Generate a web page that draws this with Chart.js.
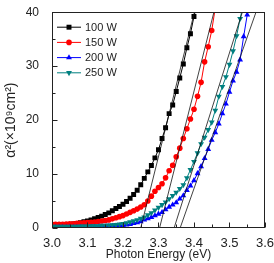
<!DOCTYPE html>
<html>
<head>
<meta charset="utf-8">
<script src="https://cdn.jsdelivr.net/npm/chart.js@4/dist/chart.umd.min.js"></script>
<style>
  html, body { margin: 0; padding: 0; background: #fff; }
  #c { display: block; }
</style>
</head>
<body>
<canvas id="c" width="274" height="263"></canvas>
<script>
// photon energy (eV), one point every 0.01 eV
const energy = [
  3.00, 3.01, 3.02, 3.03, 3.04, 3.05, 3.06, 3.07, 3.08, 3.09,
  3.10, 3.11, 3.12, 3.13, 3.14, 3.15, 3.16, 3.17, 3.18, 3.19,
  3.20, 3.21, 3.22, 3.23, 3.24, 3.25, 3.26, 3.27, 3.28, 3.29,
  3.30, 3.31, 3.32, 3.33, 3.34, 3.35, 3.36, 3.37, 3.38, 3.39,
  3.40, 3.41, 3.42, 3.43, 3.44, 3.45, 3.46, 3.47, 3.48, 3.49,
  3.50, 3.51, 3.52, 3.53, 3.54, 3.55
];

// alpha^2 (x10^9 cm^2) per sample power
const w100 = [
  0.5, 0.5, 0.5, 0.55, 0.6, 0.65, 0.75, 0.85, 1.0, 1.15,
  1.3, 1.5, 1.7, 1.95, 2.2, 2.5, 2.8, 3.2, 3.6, 4.0,
  4.4, 4.9, 5.5, 6.2, 7.0, 8.0, 9.2, 10.4, 11.6, 13.0,
  14.5, 16.6, 18.6, 21.2, 22.8, 25.3, 27.8, 30.4, 33.4, 36.0,
  39.2, 42.0
];
const w150 = [
  0.7, 0.7, 0.7, 0.7, 0.75, 0.8, 0.8, 0.85, 0.9, 0.95,
  1.0, 1.05, 1.1, 1.2, 1.3, 1.4, 1.5, 1.7, 1.9, 2.1,
  2.3, 2.6, 2.9, 3.2, 3.5, 3.9, 4.3, 5.0, 5.9, 6.8,
  7.5, 8.2, 9.3, 10.6, 11.6, 13.2, 14.8, 16.6, 18.4, 20.2,
  22.0, 24.4, 27.0, 30.8, 33.6, 36.6, 40.8
];
const w200 = [
  0.1, 0.1, 0.1, 0.1, 0.1, 0.1, 0.1, 0.1, 0.12, 0.12,
  0.15, 0.15, 0.18, 0.2, 0.22, 0.25, 0.3, 0.35, 0.4, 0.45,
  0.5, 0.6, 0.7, 0.85, 1.0, 1.2, 1.5, 1.75, 2.0, 2.3,
  2.6, 2.9, 3.4, 3.9, 4.3, 4.7, 5.4, 6.0, 7.0, 7.8,
  8.8, 10.1, 11.4, 12.9, 14.6, 16.3, 17.7, 19.3, 21.2, 23.0,
  25.2, 27.3, 28.9, 31.2, 35.5, 39.5
];
const w250 = [
  0.3, 0.3, 0.3, 0.3, 0.3, 0.3, 0.3, 0.3, 0.35, 0.35,
  0.35, 0.4, 0.4, 0.4, 0.45, 0.45, 0.5, 0.55, 0.6, 0.7,
  0.8, 0.95, 1.1, 1.3, 1.5, 1.75, 2.0, 2.4, 2.8, 3.3,
  3.8, 4.3, 4.8, 5.4, 6.0, 6.6, 7.3, 8.0, 9.3, 10.8,
  12.3, 13.9, 15.6, 16.8, 18.2, 19.6, 21.8, 24.4, 26.2, 28.0,
  30.3, 32.8, 35.6, 38.8, 41.8
];

// linear fits: end points [E, alpha^2]
const fit100 = [[3.250, 0], [3.405, 41]];
const fit150 = [[3.303, 0], [3.460, 41]];
const fit200 = [[3.361, 0], [3.580, 41]];
const fit250 = [[3.344, 0], [3.541, 41]];

const xTicks = { min: 3.0, max: 3.6, step: 0.1 };
const yTicks = { min: 0, max: 40, step: 10 };

const FONT = '"Liberation Sans", Arial, sans-serif';
Chart.defaults.font.family = FONT;
Chart.defaults.color = "#222";

const pts = (vals) => vals.map((v, i) => ({ x: energy[i], y: v }));
const seg = (p) => p.map(([x, y]) => ({ x, y }));

function series(label, vals, color, style, radius, rot, order) {
  return {
    label,
    data: pts(vals),
    borderColor: color,
    backgroundColor: color,
    borderWidth: 1,
    pointStyle: style,
    pointRadius: radius,
    pointRotation: rot,
    pointBorderWidth: 0,
    order
  };
}

function fitLine(p) {
  return {
    data: seg(p),
    borderColor: "#111",
    borderWidth: 0.8,
    pointRadius: 0,
    order: 0
  };
}

// frame, inward ticks and the in-plot legend
const decor = {
  id: "decor",
  afterDraw(chart) {
    const ctx = chart.ctx;
    const a = chart.chartArea;
    const xs = chart.scales.x, ys = chart.scales.y;
    ctx.save();
    ctx.strokeStyle = "#222";
    ctx.lineWidth = 1;
    const L = Math.round(a.left) + 0.5, R = Math.round(a.right) - 0.5;
    const T = Math.round(a.top) + 0.5, B = Math.round(a.bottom) - 0.5;
    ctx.strokeRect(L, T, R - L, B - T);

    ctx.beginPath();
    xs.ticks.forEach((t, i) => {
      const px = Math.round(xs.getPixelForValue(t.value)) + 0.5;
      ctx.moveTo(px, B); ctx.lineTo(px, B - 5);
      if (i < xs.ticks.length - 1) {
        const m = Math.round(xs.getPixelForValue((t.value + xs.ticks[i + 1].value) / 2)) + 0.5;
        ctx.moveTo(m, B); ctx.lineTo(m, B - 3);
      }
    });
    ys.ticks.forEach((t, i) => {
      const py = Math.round(ys.getPixelForValue(t.value)) + 0.5;
      ctx.moveTo(L, py); ctx.lineTo(L + 5, py);
      if (i < ys.ticks.length - 1) {
        const m = Math.round(ys.getPixelForValue((t.value + ys.ticks[i + 1].value) / 2)) + 0.5;
        ctx.moveTo(L, m); ctx.lineTo(L + 3, m);
      }
    });
    ctx.stroke();

    ctx.font = "11px " + FONT;
    ctx.textBaseline = "middle";
    chart.data.datasets.filter(d => d.label).forEach((d, i) => {
      const y = a.top + 15 + i * 15.2;
      const x0 = a.left + 5;
      ctx.strokeStyle = d.borderColor;
      ctx.lineWidth = 1;
      ctx.beginPath();
      ctx.moveTo(x0, y); ctx.lineTo(x0 + 24, y);
      ctx.stroke();
      ctx.fillStyle = d.backgroundColor;
      Chart.helpers.drawPoint(ctx, {
        pointStyle: d.pointStyle, radius: d.pointRadius,
        rotation: d.pointRotation, borderWidth: 0
      }, x0 + 12, y);
      ctx.fillStyle = "#222";
      ctx.fillText(d.label, x0 + 28, y + 0.5);
    });
    ctx.restore();
  }
};

new Chart(document.getElementById("c"), {
  type: "line",
  data: {
    datasets: [
      series("100 W", w100, "#000000", "rect", 3.5, 0, 4),
      series("150 W", w150, "#ff0000", "circle", 2.8, 0, 3),
      series("200 W", w200, "#0000ff", "triangle", 3.4, 0, 2),
      series("250 W", w250, "#008080", "triangle", 3.4, 180, 1),
      fitLine(fit100), fitLine(fit150), fitLine(fit200), fitLine(fit250)
    ]
  },
  options: {
    responsive: false,
    animation: false,
    devicePixelRatio: 1,
    layout: { padding: { top: 8, right: 6, left: 0, bottom: 0 } },
    plugins: { legend: { display: false }, tooltip: { enabled: false } },
    scales: {
      x: {
        type: "linear",
        min: xTicks.min, max: xTicks.max,
        grid: { display: false },
        border: { display: false },
        ticks: {
          stepSize: xTicks.step, padding: 0,
          font: { size: 13 }, color: "#222",
          maxRotation: 0,
          callback: (v) => v.toFixed(1)
        },
        title: {
          display: true, text: "Photon Energy (eV)",
          font: { size: 12 }, color: "#222",
          padding: { top: 0, bottom: 1 }
        },
        afterFit: (s) => { s.height = 35; }
      },
      y: {
        min: yTicks.min, max: yTicks.max,
        grid: { display: false },
        border: { display: false },
        ticks: { stepSize: yTicks.step, padding: 5, font: { size: 12 }, color: "#222" },
        title: {
          display: true, text: "α²(×10⁹cm²)",
          font: { size: 14 }, color: "#222",
          padding: { top: 3, bottom: 0 }
        },
        afterFit: (s) => { s.width = 52; }
      }
    }
  },
  plugins: [decor]
});
</script>
</body>
</html>
